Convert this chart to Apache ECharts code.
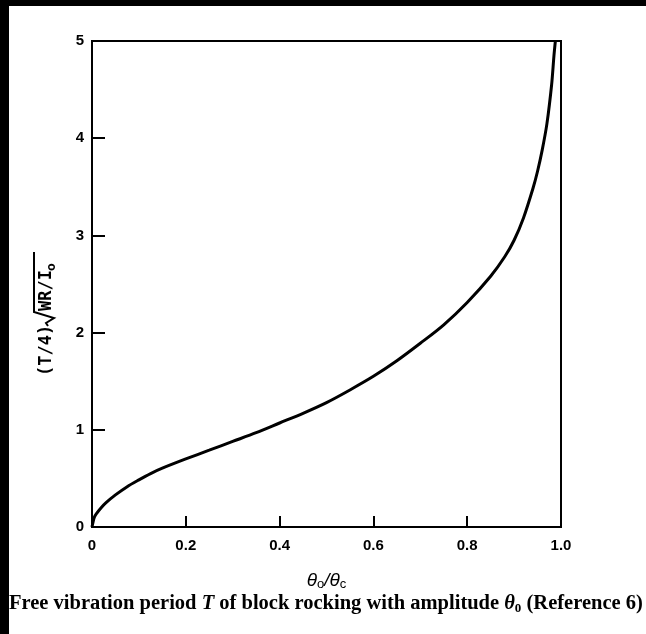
<!DOCTYPE html>
<html>
<head>
<meta charset="utf-8">
<script src="https://cdn.jsdelivr.net/npm/echarts@6/dist/echarts.min.js"></script>
<style>
  html, body { margin: 0; padding: 0; background: #fff; }
  #main { width: 646px; height: 634px; }
</style>
</head>
<body>
<div id="main"></div>
<script type="text/javascript">
    // 读图得到的数据 (theta0/thetac, (T/4)sqrt(WR/I0))
    var ratio = [0, 0.005, 0.01, 0.02, 0.03, 0.05, 0.075, 0.1, 0.125, 0.15, 0.2, 0.25, 0.3, 0.35, 0.4,
        0.45, 0.5, 0.55, 0.6, 0.65, 0.7, 0.75, 0.8, 0.85, 0.88, 0.9, 0.92, 0.94, 0.95,
        0.96, 0.97, 0.98, 0.985, 0.988];
    var period = [0, 0.10, 0.14, 0.20, 0.25, 0.33, 0.415, 0.485, 0.55, 0.605, 0.70, 0.79, 0.88, 0.97, 1.07,
        1.17, 1.28, 1.41, 1.55, 1.71, 1.89, 2.08, 2.31, 2.58, 2.78, 2.95, 3.18, 3.48, 3.66,
        3.88, 4.15, 4.55, 4.85, 5.0];
    var xTicks = [0, 0.2, 0.4, 0.6, 0.8, 1.0];
    var yTicks = [0, 1, 2, 3, 4, 5];

    var myChart = echarts.init(document.getElementById('main'));

    var points = [];
    for (var i = 0; i < ratio.length; i++) {
        points.push([ratio[i], period[i]]);
    }

    var labelFont = {color: '#000', fontSize: 15, fontWeight: 'bold', fontFamily: 'Liberation Sans'};

    option = {
        backgroundColor: '#fff',
        animation: false,
        grid: {
            left: 92, right: 85, top: 41, bottom: 107,
            show: true, borderColor: '#000', borderWidth: 2
        },
        xAxis: {
            type: 'value',
            min: xTicks[0], max: xTicks[xTicks.length - 1], interval: 0.2,
            splitLine: {show: false},
            axisLine: {lineStyle: {color: '#000', width: 2}},
            axisTick: {inside: true, length: 11, lineStyle: {color: '#000', width: 2}},
            axisLabel: Object.assign({
                margin: 11,
                formatter: function (v) { return v === 0 ? '0' : v.toFixed(1); }
            }, labelFont),
            name: '{t|θ}{s|o}{t|/θ}{s|c}',
            nameLocation: 'middle',
            nameGap: 43,
            nameTextStyle: {
                rich: {
                    t: {fontSize: 19, fontStyle: 'italic', fontFamily: 'Liberation Sans', color: '#000'},
                    s: {fontSize: 13, fontFamily: 'Liberation Sans', color: '#000', padding: [8, 0, 0, 0]}
                }
            }
        },
        yAxis: {
            type: 'value',
            min: yTicks[0], max: yTicks[yTicks.length - 1], interval: 1,
            splitLine: {show: false},
            axisLine: {lineStyle: {color: '#000', width: 2}},
            axisTick: {inside: true, length: 13, lineStyle: {color: '#000', width: 2}},
            axisLabel: Object.assign({margin: 8}, labelFont)
        },
        series: [{
            type: 'line',
            data: points,
            smooth: 0.3,
            showSymbol: false,
            lineStyle: {color: '#000', width: 3}
        }],
        graphic: [
            // 扫描件的黑边
            {type: 'rect', shape: {x: 0, y: 0, width: 9, height: 634}, style: {fill: '#000'}},
            {type: 'rect', shape: {x: 0, y: 0, width: 646, height: 6}, style: {fill: '#000'}},
            // 纵轴标题
            {
                type: 'group',
                x: 47, y: 376,
                rotation: Math.PI / 2,
                children: [
                    {type: 'text', x: 0, y: 0, style: {text: '(T/4)', font: 'bold 17px "DejaVu Sans Mono"', fill: '#000', align: 'left', verticalAlign: 'middle'}},
                    {type: 'polyline', shape: {points: [[50, 1], [53, -1], [58, 7], [64, -13], [124, -13]]}, style: {stroke: '#000', lineWidth: 2, fill: null}},
                    {type: 'text', x: 65, y: 0, style: {text: 'WR/I', font: 'bold 17px "DejaVu Sans Mono"', fill: '#000', align: 'left', verticalAlign: 'middle'}},
                    {type: 'text', x: 105, y: 5, style: {text: 'o', font: 'bold 13px "DejaVu Sans Mono"', fill: '#000', align: 'left', verticalAlign: 'middle'}}
                ]
            },
            // 图注
            {
                type: 'text',
                x: 9, y: 604,
                style: {
                    text: '{n|Free vibration period }{i|T}{n| of block rocking with amplitude }{i|θ}{s|0}{n| (Reference 6)}',
                    verticalAlign: 'middle',
                    rich: {
                        n: {font: 'bold 20.5px "Liberation Serif"', fill: '#000'},
                        i: {font: 'italic bold 20.5px "Liberation Serif"', fill: '#000'},
                        s: {font: 'bold 13px "Liberation Serif"', fill: '#000', padding: [9, 0, 0, 0]}
                    }
                }
            }
        ]
    };

    myChart.setOption(option);
</script>
</body>
</html>
